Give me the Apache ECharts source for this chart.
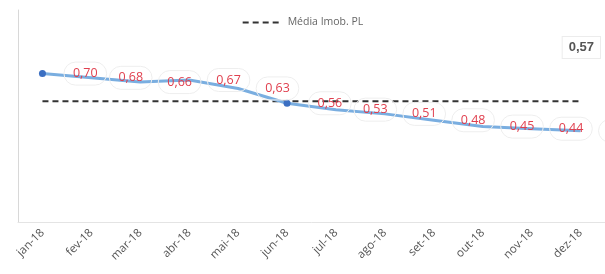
<!DOCTYPE html>
<html>
<head>
<meta charset="utf-8">
<script src="https://cdn.jsdelivr.net/npm/echarts@6/dist/echarts.min.js"></script>
<style>html,body{margin:0;padding:0;background:#fff}#c{width:605px;height:274px}</style>
</head>
<body>
<div id="c"></div>
<script>
const categories = ['jan-18','fev-18','mar-18','abr-18','mai-18','jun-18','jul-18','ago-18','set-18','out-18','nov-18','dez-18'];
const fundValues = [0.70, 0.68, 0.66, 0.67, 0.63, 0.56, 0.53, 0.51, 0.48, 0.45, 0.44, 0.43];
const mediaValue = 0.57;
const mediaValues = categories.map(() => mediaValue);
const mediaName = 'Média Imob. PL';
const fmt = v => v.toFixed(2).replace('.', ',');

const chart = echarts.init(document.getElementById('c'));
chart.setOption({
  animation: false,
  textStyle: { fontFamily: 'Open Sans, Liberation Sans, sans-serif' },
  legend: {
    data: [mediaName],
    top: 12, left: 'center',
    itemWidth: 40, itemHeight: 10, itemGap: 6,
    itemStyle: { opacity: 0 },
    textStyle: { fontSize: 10.5, color: '#666' }
  },
  grid: { left: 18, right: 0, top: 10, bottom: 52 },
  xAxis: {
    type: 'category', data: categories, boundaryGap: true,
    axisLine: { lineStyle: { color: '#e4e4e4' } },
    axisTick: { show: false },
    axisLabel: { rotate: 45, fontSize: 11.5, color: '#555', margin: 9, interval: 0 }
  },
  yAxis: {
    type: 'value', min: 0, max: 1,
    axisLine: { show: true, lineStyle: { color: '#d8d8d8' } },
    axisLabel: { show: false }, axisTick: { show: false }, splitLine: { show: false }
  },
  series: [
    {
      name: 'Fundo', type: 'line', data: fundValues,
      lineStyle: { color: '#7aaee0', width: 3 },
      itemStyle: { color: '#3b6fc2' },
      symbol: 'circle',
      symbolSize: (v, p) => (p.dataIndex === 0 || p.dataIndex === 5) ? 7 : 0,
      label: {
        show: true, position: 'right', distance: 18,
        formatter: p => fmt(p.value),
        color: '#e0404f', fontSize: 12.5,
        borderColor: '#eeeeee', borderWidth: 1, borderRadius: 14, padding: [5, 9]
      },
      z: 3
    },
    {
      name: mediaName, type: 'line', data: mediaValues,
      symbol: 'none',
      lineStyle: { color: '#333', width: 2, type: [6, 4] },
      itemStyle: { color: '#333' },
      z: 2
    }
  ],
  graphic: [{
    type: 'text', right: 4, top: 36,
    style: { text: fmt(mediaValue), fontSize: 13, fontWeight: 'bold', fill: '#555',
      backgroundColor: '#fff', borderColor: '#ececec', borderWidth: 1, padding: [4, 6] }
  }]
});
</script>
</body>
</html>
